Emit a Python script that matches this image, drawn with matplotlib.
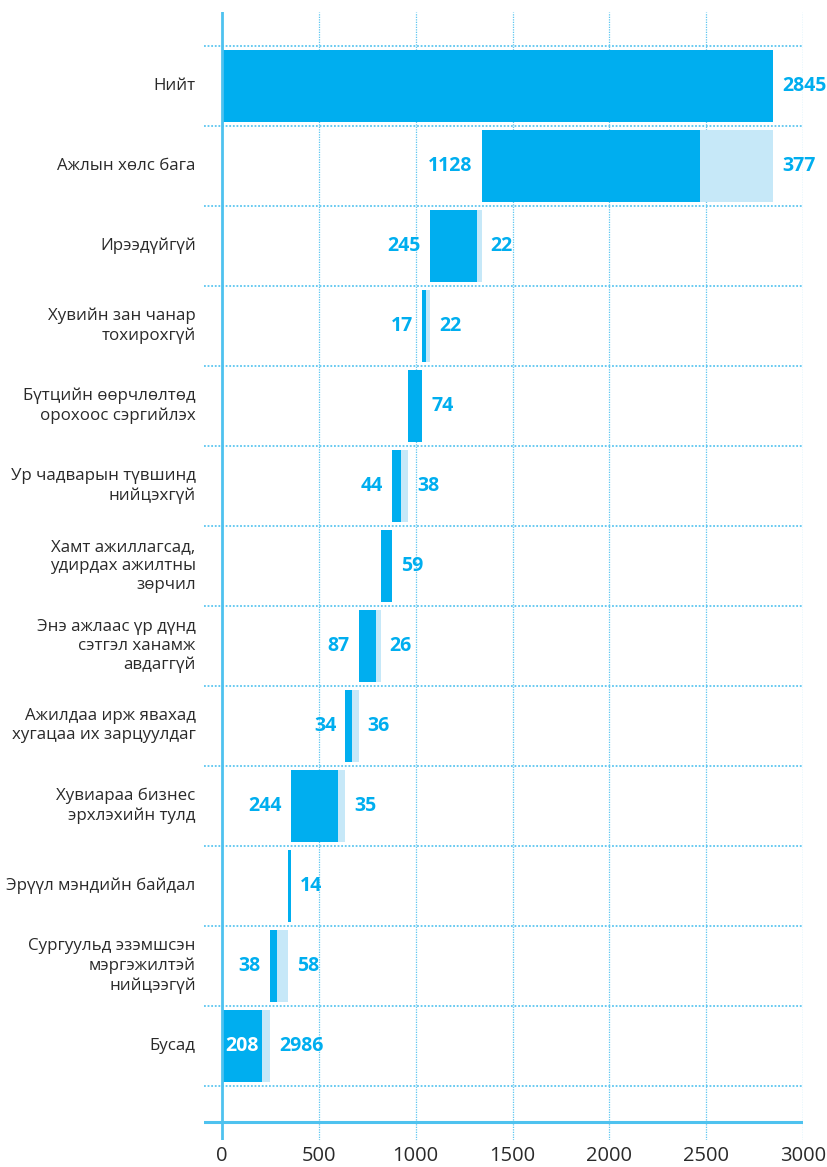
import matplotlib
matplotlib.use("Agg")
import matplotlib.pyplot as plt
import numpy as np

categories = [
    "Нийт",
    "Ажлын хөлс бага",
    "Ирээдүйгүй",
    "Хувийн зан чанар\nтохирохгүй",
    "Бүтцийн өөрчлөлтөд\nорохоос сэргийлэх",
    "Ур чадварын түвшинд\nнийцэхгүй",
    "Хамт ажиллагсад,\nудирдах ажилтны\nзөрчил",
    "Энэ ажлаас үр дүнд\nсэтгэл ханамж\nавдаггүй",
    "Ажилдаа ирж явахад\nхугацаа их зарцуулдаг",
    "Хувиараа бизнес\nэрхлэхийн тулд",
    "Эрүүл мэндийн байдал",
    "Сургуульд эзэмшсэн\nмэргэжилтэй\nнийцээгүй",
    "Бусад",
]
dark_values = [2845, 1128, 245, 17, 74, 44, 59, 87, 34, 244, 14, 38, 208]
light_values = [0, 377, 22, 22, 0, 38, 0, 26, 36, 35, 0, 58, 39]
dark_labels = ["2845", "1128", "245", "17", "74", "44", "59", "87", "34", "244", "14", "38", "208"]
light_labels = ["", "377", "22", "22", "", "38", "", "26", "36", "35", "", "58", "2986"]
x_ticks = [0, 500, 1000, 1500, 2000, 2500, 3000]

DARK = "#00AEEF"
LIGHT = "#C6E8F8"
GRID = "#5CC6F0"
AXIS = "#4EC2EF"
TEXT = "#2a2a2a"
FONT = "Open Sans"

plt.rcParams["font.family"] = [FONT, "DejaVu Sans"]

# Waterfall layout: the total starts at zero, every following row ends where the row above begins
n = len(categories)
starts = np.zeros(n)
right_edge = dark_values[0]
for i in range(1, n):
    starts[i] = right_edge - dark_values[i] - light_values[i]
    right_edge = starts[i]

fig = plt.figure(figsize=(8.28, 11.67), dpi=100)
ax = fig.add_axes([204 / 828, 1 - 1140 / 1167, (803 - 204) / 828, (1140 - 12) / 1167])

y = np.arange(n)
dark = np.array(dark_values, dtype=float)
light = np.array(light_values, dtype=float)

ax.barh(y, dark, left=starts, height=0.9, color=DARK, zorder=3)
ax.barh(y, light, left=starts + dark, height=0.9, color=LIGHT, zorder=3)

x_min = -93
ax.set_xlim(x_min, 3000)
ax.set_ylim(13.175, -0.925)

# dotted grid: vertical at ticks, horizontal at row boundaries
for t in x_ticks[1:]:
    ax.axvline(t, color=GRID, lw=0.9, ls=(0, (1, 1)), zorder=1)
for b in np.arange(-0.5, n, 1.0):
    ax.axhline(b, color=GRID, lw=1.3, ls=(0, (1, 1)), zorder=1)
ax.axvline(0, color=AXIS, lw=2, zorder=4)
ax.axhline(12.95, color=AXIS, lw=2.2, zorder=4)

for s in ax.spines.values():
    s.set_visible(False)

ax.set_xticks(x_ticks)
ax.set_xticklabels([str(t) for t in x_ticks], fontsize=14.5, color=TEXT)
ax.tick_params(axis="x", length=0, pad=4)
ax.set_yticks([])

# category labels, right aligned left of the plot
for i, cat in enumerate(categories):
    ax.annotate(cat, xy=(x_min, i), xycoords="data", xytext=(-6, 0),
                textcoords="offset points", ha="right", va="center",
                fontsize=12.2, color=TEXT, linespacing=1.25,
                annotation_clip=False)

num_kw = dict(fontsize=14, fontweight="bold", va="center", textcoords="offset points",
              annotation_clip=False)
for i in range(n):
    s = starts[i]
    e = s + dark[i] + light[i]
    if light[i] == 0:
        ax.annotate(dark_labels[i], xy=(e, i), xytext=(6.5, 0), ha="left", color=DARK, **num_kw)
        continue
    if s < 150:
        ax.annotate(dark_labels[i], xy=(s + dark[i] / 2, i), xytext=(0, 0), ha="center",
                    color="white", **num_kw)
    else:
        ax.annotate(dark_labels[i], xy=(s, i), xytext=(-6.5, 0), ha="right", color=DARK, **num_kw)
    ax.annotate(light_labels[i], xy=(e, i), xytext=(6.5, 0), ha="left", color=DARK, **num_kw)

fig.savefig("out.png", dpi=100)
